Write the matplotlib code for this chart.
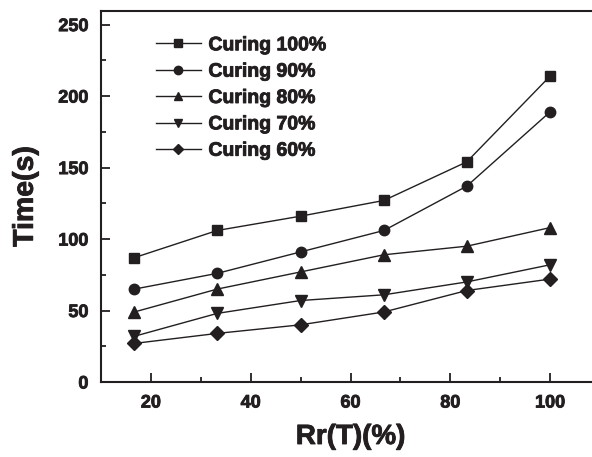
import matplotlib
matplotlib.use("Agg")
import matplotlib.pyplot as plt
import matplotlib.patheffects as pe
from matplotlib.ticker import MultipleLocator

plt.rcParams['font.family'] = ['Liberation Sans', 'DejaVu Sans']
plt.rcParams['font.weight'] = 'bold'

rr = [16.7, 33.3, 50.0, 66.7, 83.3, 100.0]
curing_100 = [87, 106, 116, 127, 154, 214]
curing_90 = [65, 76, 91, 106, 137, 189]
curing_80 = [49, 65, 77, 89, 95, 108]
curing_70 = [32, 48, 57, 61, 70, 82]
curing_60 = [27, 34, 40, 49, 64, 72]

labels = ['Curing 100%', 'Curing 90%', 'Curing 80%', 'Curing 70%', 'Curing 60%']
series = [curing_100, curing_90, curing_80, curing_70, curing_60]
markers = ['s', 'o', '^', 'v', 'D']
sizes = [7, 7.5, 8, 8, 7]

ink = '#231f20'
heavy = [pe.withStroke(linewidth=0.6, foreground=ink)]

fig = plt.figure(figsize=(5.92, 4.57), dpi=100)
ax = fig.add_axes([0.1706, 0.1641, 0.843, 0.8118])

for vals, lab, m, ms in zip(series, labels, markers, sizes):
    ax.plot(rr, vals, color=ink, lw=1.0, marker=m, markersize=ms,
            markerfacecolor=ink, markeredgecolor=ink, label=lab)

ax.set_xlim(10, 110)
ax.set_ylim(0, 259.5)
ax.xaxis.set_major_locator(MultipleLocator(20))
ax.xaxis.set_minor_locator(MultipleLocator(10))
ax.yaxis.set_major_locator(MultipleLocator(50))
ax.yaxis.set_minor_locator(MultipleLocator(25))

ax.tick_params(which='both', direction='in', colors=ink, width=1.3,
               labelsize=13, top=False, right=False)
ax.tick_params(which='major', length=6.5)
ax.tick_params(axis='y', which='major', pad=9)
ax.tick_params(axis='x', which='major', pad=9)
ax.tick_params(which='minor', length=3.6)
for lbl in ax.get_xticklabels() + ax.get_yticklabels():
    lbl.set_fontweight('bold')
    lbl.set_path_effects(heavy)
for sp in ax.spines.values():
    sp.set_linewidth(1.5)
    sp.set_color(ink)

ax.set_xlabel('Rr(T)(%)', fontsize=20, fontweight='bold', color=ink,
              labelpad=9, path_effects=heavy)
ax.set_ylabel('Time(s)', fontsize=20.5, fontweight='bold', color=ink,
              labelpad=14, path_effects=heavy)

leg = ax.legend(loc='upper left', bbox_to_anchor=(0.075, 0.978), frameon=False,
                prop={'weight': 'bold', 'size': 14}, handlelength=2.3,
                handletextpad=0.4, labelspacing=0.45, markerscale=0.8)
for t in leg.get_texts():
    t.set_color(ink)
    t.set_path_effects(heavy)

fig.savefig('out.png', dpi=100)
